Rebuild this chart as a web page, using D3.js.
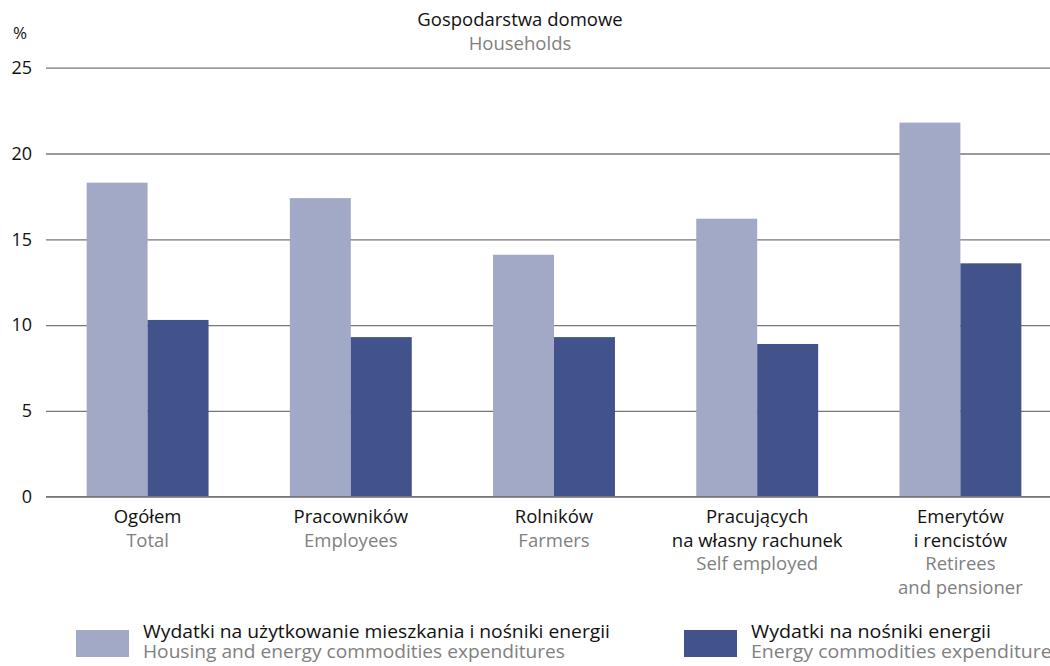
<!DOCTYPE html>
<html>
<head>
<meta charset="utf-8">
<script src="https://cdn.jsdelivr.net/npm/d3@7"></script>
<style>
  body { margin: 0; background: #fff; }
  text { font-family: "Open Sans", "Noto Sans", sans-serif; }
</style>
</head>
<body>
<div id="chart"></div>
<script>
// data
var categoriesPl = [["Ogółem"], ["Pracowników"], ["Rolników"], ["Pracujących", "na własny rachunek"], ["Emerytów", "i rencistów"]];
var categoriesEn = [["Total"], ["Employees"], ["Farmers"], ["Self employed"], ["Retirees", "and pensioner"]];
var housingEnergy = [18.3, 17.4, 14.1, 16.2, 21.8];
var energyOnly = [10.3, 9.3, 9.3, 8.9, 13.6];
var yTicks = [0, 5, 10, 15, 20, 25];
var seriesNamesPl = ["Wydatki na użytkowanie mieszkania i nośniki energii", "Wydatki na nośniki energii"];
var seriesNamesEn = ["Housing and energy commodities expenditures", "Energy commodities expenditures"];
var colors = ["#a2a9c6", "#42528a"];

var width = 1050, height = 666;

var svg = d3.select("#chart").append("svg")
    .attr("width", width)
    .attr("height", height);

// scales
var x0 = d3.scaleBand()
    .domain(d3.range(categoriesPl.length))
    .range([46, 1062])
    .paddingInner(0.4)
    .paddingOuter(0.2);

var x1 = d3.scaleBand()
    .domain([0, 1])
    .range([0, x0.bandwidth()]);

var y = d3.scaleLinear()
    .domain([0, 25])
    .range([496.7, 67.7]);

// gridlines + tick labels
var yAxis = d3.axisLeft(y)
    .tickValues(yTicks)
    .tickSize(-(width - 46))
    .tickPadding(14);

var gy = svg.append("g")
    .attr("transform", "translate(46,0)")
    .call(yAxis);
gy.select(".domain").remove();
gy.selectAll(".tick line")
    .attr("stroke", "#777")
    .attr("stroke-width", 1.3);
gy.selectAll(".tick text")
    .attr("fill", "#111")
    .style("font-size", "18px");

// bars
var rows = housingEnergy.map(function(v, i) { return [v, energyOnly[i]]; });

var groups = svg.selectAll(".grp")
    .data(rows)
    .enter().append("g")
    .attr("class", "grp")
    .attr("transform", function(d, i) { return "translate(" + x0(i) + ",0)"; });

groups.selectAll("rect")
    .data(function(d) { return d; })
    .enter().append("rect")
    .attr("x", function(d, j) { return x1(j); })
    .attr("width", x1.bandwidth())
    .attr("y", function(d) { return y(d); })
    .attr("height", function(d) { return y(0) - y(d); })
    .attr("fill", function(d, j) { return colors[j]; });

// zero line on top
svg.append("line")
    .attr("x1", 46).attr("x2", width)
    .attr("y1", y(0)).attr("y2", y(0))
    .attr("stroke", "#777")
    .attr("stroke-width", 1.3);

// category labels
var lineH = 23.5;
categoriesPl.forEach(function(pl, i) {
    var cx = x0(i) + x0.bandwidth() / 2;
    var t = svg.append("text")
        .attr("text-anchor", "middle")
        .style("font-size", "18.5px");
    var lines = pl.map(function(s) { return { s: s, c: "#111" }; })
        .concat(categoriesEn[i].map(function(s) { return { s: s, c: "#808080" }; }));
    lines.forEach(function(l, k) {
        t.append("tspan")
            .attr("x", cx)
            .attr("y", 523 + k * lineH)
            .attr("fill", l.c)
            .text(l.s);
    });
});

// title
svg.append("text")
    .attr("x", 520).attr("y", 26)
    .attr("text-anchor", "middle")
    .attr("fill", "#111")
    .style("font-size", "18.5px")
    .text("Gospodarstwa domowe");
svg.append("text")
    .attr("x", 520).attr("y", 50)
    .attr("text-anchor", "middle")
    .attr("fill", "#808080")
    .style("font-size", "18.5px")
    .text("Households");

svg.append("text")
    .attr("x", 20).attr("y", 39)
    .attr("text-anchor", "middle")
    .attr("fill", "#111")
    .style("font-size", "17px")
    .text("%");

// legend (condensed look: glyphs squeezed to the reference width)
var legendX = [76, 684];
var legendW = [[467, 422], [240, 310]];
legendX.forEach(function(lx, j) {
    svg.append("rect")
        .attr("x", lx).attr("y", 630)
        .attr("width", 53).attr("height", 27)
        .attr("fill", colors[j]);
    svg.append("text")
        .attr("x", lx + 67).attr("y", 637.5)
        .attr("fill", "#111")
        .attr("textLength", legendW[j][0])
        .attr("lengthAdjust", "spacingAndGlyphs")
        .style("font-size", "17.5px")
        .text(seriesNamesPl[j]);
    svg.append("text")
        .attr("x", lx + 67).attr("y", 658)
        .attr("fill", "#808080")
        .attr("textLength", legendW[j][1])
        .attr("lengthAdjust", "spacingAndGlyphs")
        .style("font-size", "17.5px")
        .text(seriesNamesEn[j]);
});
</script>
</body>
</html>
